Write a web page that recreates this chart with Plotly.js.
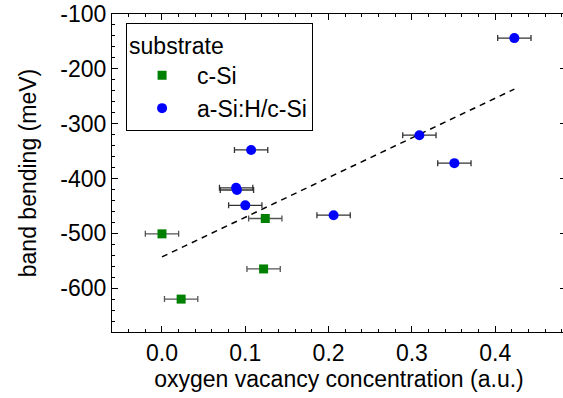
<!DOCTYPE html>
<html>
<head>
<meta charset="utf-8">
<script src="https://cdn.plot.ly/plotly-3.0.1.min.js"></script>
<style>
html,body{margin:0;padding:0;overflow:hidden;background:#fff;width:563px;height:398px;}
#chart{width:568px;height:398px;}
</style>
</head>
<body>
<div id="chart"></div>
<script>
// c-Si substrate
var cSiX = [0.000, 0.124, 0.122, 0.023];
var cSiY = [-501, -473, -565, -620];
var cSiErr = [0.02, 0.02, 0.02, 0.02];
// a-Si:H/c-Si substrate
var aSiX = [0.423, 0.309, 0.351, 0.107, 0.089, 0.090, 0.100, 0.206];
var aSiY = [-144, -321, -372, -348, -417, -421, -449, -467];
var aSiErr = [0.02, 0.02, 0.02, 0.02, 0.02, 0.02, 0.02, 0.02];
// linear fit
var fitX = [0.0, 0.423];
var fitY = [-543, -237];

var xTicks = [0.0, 0.1, 0.2, 0.3, 0.4];
var xTickText = ['0.0', '0.1', '0.2', '0.3', '0.4'];
var yTicks = [-100, -200, -300, -400, -500, -600];
var yTickText = ['-100', '-200', '-300', '-400', '-500', '-600'];

var F = 'Liberation Sans, Arial, sans-serif';
var FS = 23;

var traces = [
  {
    x: fitX, y: fitY, mode: 'lines', type: 'scatter', showlegend: false,
    line: {color: '#000', width: 1.5, dash: '6px,5px'}, hoverinfo: 'skip'
  },
  {
    x: cSiX, y: cSiY, mode: 'markers', type: 'scatter', name: 'c-Si',
    marker: {symbol: 'square', size: 9, color: '#008000'},
    error_x: {type: 'data', array: cSiErr, visible: true, color: '#555', thickness: 1.3, width: 3}
  },
  {
    x: aSiX, y: aSiY, mode: 'markers', type: 'scatter', name: 'a-Si:H/c-Si',
    marker: {symbol: 'circle', size: 10, color: '#0000ff'},
    error_x: {type: 'data', array: aSiErr, visible: true, color: '#333', thickness: 1.3, width: 3}
  }
];

var layout = {
  width: 568, height: 398,
  margin: {l: 112, r: 2, t: 14, b: 66},
  paper_bgcolor: '#fff', plot_bgcolor: '#fff',
  font: {family: F, size: FS, color: '#000'},
  xaxis: {
    range: [-0.06, 0.485],
    tickvals: xTicks, ticktext: xTickText,
    ticks: 'inside', ticklen: 6, tickwidth: 1, tickcolor: '#000',
    showline: true, linecolor: '#000', linewidth: 1, mirror: 'ticks',
    showgrid: false, zeroline: false,
    minor: {dtick: 0.02, ticks: 'inside', ticklen: 3, tickcolor: '#000', showgrid: false},
    tickfont: {family: F, size: FS, color: '#000'},
    title: {text: 'oxygen vacancy concentration (a.u.)', font: {family: F, size: FS, color: '#000'}, standoff: 4}
  },
  yaxis: {
    range: [-680, -100],
    tickvals: yTicks, ticktext: yTickText,
    ticks: 'inside', ticklen: 6, tickwidth: 1, tickcolor: '#000',
    showline: true, linecolor: '#000', linewidth: 1, mirror: 'ticks',
    showgrid: false, zeroline: false,
    minor: {dtick: 20, ticks: 'inside', ticklen: 3, tickcolor: '#000', showgrid: false},
    tickfont: {family: F, size: FS, color: '#000'},
    title: {text: 'band bending (meV)', font: {family: F, size: FS, color: '#000'}, standoff: 17}
  },
  legend: {
    x: 0.031, y: 0.972, xanchor: 'left', yanchor: 'top',
    bgcolor: '#fff', bordercolor: '#000', borderwidth: 1,
    font: {family: F, size: FS, color: '#000'},
    title: {text: 'substrate', font: {family: F, size: FS, color: '#000'}},
    itemwidth: 60, tracegroupgap: 0
  },
  showlegend: true
};

Plotly.newPlot('chart', traces, layout, {displayModeBar: false, staticPlot: true});
</script>
</body>
</html>
